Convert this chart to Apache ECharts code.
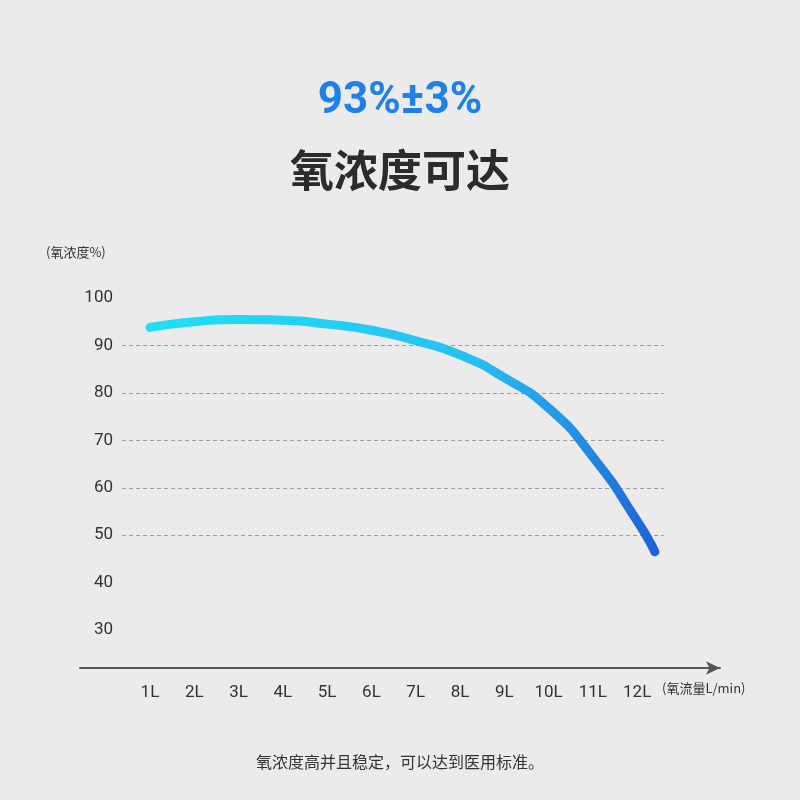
<!DOCTYPE html>
<html><head><meta charset="utf-8">
<script src="https://cdn.jsdelivr.net/npm/echarts@6/dist/echarts.min.js"></script>
<style>html,body{margin:0;background:#ebebeb}#c{width:800px;height:800px}</style>
</head><body><div id="c"></div>
<script>
const flow = [1, 2, 3, 4, 5, 6, 7, 8, 9, 10, 11, 12, 12.4];
const concentration = [93.8, 95, 95.5, 95.3, 94.5, 93.2, 91, 88, 83.2, 76.8, 66.5, 53, 46.5];
const xTicks = [1,2,3,4,5,6,7,8,9,10,11,12];
const yTicks = [30,40,50,60,70,80,90,100];
const gridLines = [50,60,70,80,90];
const font = '"Noto Sans CJK SC", "Noto Sans", sans-serif';
const chart = echarts.init(document.getElementById('c'));
chart.setOption({
  backgroundColor:'#ebebeb',
  animation:false,
  grid:{left:80,right:80,top:225,bottom:132},
  xAxis:{type:'value',min:-0.58,max:13.87,
    axisLine:{show:true,symbol:['none','arrow'],symbolSize:[10,14],lineStyle:{color:'#555',width:2}},
    axisTick:{show:false},splitLine:{show:false},
    axisLabel:{customValues:xTicks,formatter:v=>v+'L',color:'#333',fontSize:17,margin:16,fontFamily:'Roboto'}},
  yAxis:{type:'value',min:22,max:115.4,
    axisLine:{show:false},axisTick:{show:false},splitLine:{show:false},
    axisLabel:{customValues:yTicks,color:'#333',fontSize:17,margin:-33,fontFamily:'Roboto'}},
  graphic:[
    {type:'text',left:'center',top:80,style:{text:'93%±3%',fill:'#1e80e8',fontSize:44,fontWeight:'bold',fontFamily:'Roboto'}},
    {type:'text',left:'center',top:148,style:{text:'氧浓度可达',fill:'#2b2b2b',fontSize:44,fontWeight:'bold',fontFamily:font}},
    {type:'text',left:46,top:246,style:{text:'(氧浓度%)',fill:'#333',fontSize:13,fontFamily:font}},
    {type:'text',left:662,top:682,style:{text:'(氧流量L/min)',fill:'#333',fontSize:13,fontFamily:font}},
    {type:'text',left:'center',top:754,style:{text:'氧浓度高并且稳定，可以达到医用标准。',fill:'#333',fontSize:16,fontFamily:font}}
  ],
  series:[
    {type:'line',smooth:0.6,showSymbol:false,clip:false,z:3,
      data:flow.map((f,i)=>[f,concentration[i]]),
      lineStyle:{width:9,cap:'round',color:{type:'linear',x:0,y:0,x2:1,y2:1,
        colorStops:[{offset:0,color:'#1fe0f5'},{offset:0.55,color:'#28c0f2'},{offset:1,color:'#1e5fd6'}]}},
      markLine:{silent:true,symbol:['none','none'],label:{show:false},z:1,
        data:gridLines.map(g=>[{coord:[0.37,g],lineStyle:{color:'#999',type:[4,3],width:1.2}},{coord:[12.6,g]}]).concat([
          [{coord:[0.37,12.1],symbol:'none',lineStyle:{color:'#555',type:'solid',width:2}},{coord:[0.37,115.4],symbol:'arrow',symbolSize:[10,14]}]
        ])}}
  ]
});
</script></body></html>
